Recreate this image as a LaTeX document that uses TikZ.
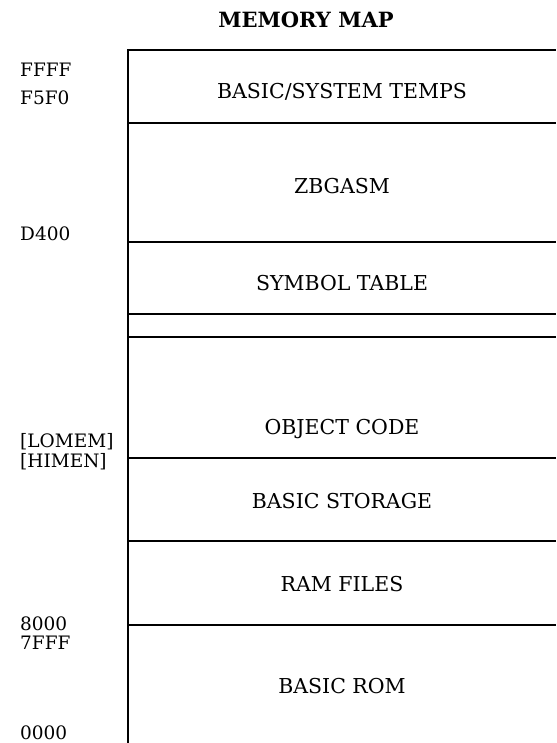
\documentclass[tikz,border=0pt]{standalone}
\usepackage{fontspec}
\setmainfont{DejaVu Serif}
\begin{document}
\begin{tikzpicture}[x=1pt,y=-1pt,
  rule/.style={line width=1.3pt},
  region/.style={font=\fontsize{20.5}{24}\selectfont, inner sep=0pt},
  addr/.style={font=\fontsize{18.5}{22}\selectfont, anchor=west, inner sep=0pt},
  ttl/.style={font=\bfseries\fontsize{21}{25}\selectfont, inner sep=0pt}]
\useasboundingbox (0,0) rectangle (556,743);
\node[ttl] (title) at (306,20) {MEMORY MAP};
% frame
\coordinate (tl) at (128,50);
\coordinate (bl) at (128,743);
\coordinate (tr) at (556,50);
\draw[rule] (bl) -- (tl) -- (tr);
\foreach \y in {123,242,314,337,458,541,625}
  \draw[rule] (128,\y) -- (556,\y);
% regions
\node[region] (temps) at (342,92) {BASIC/SYSTEM TEMPS};
\node[region] (zbg) at (342,186) {ZBGASM};
\node[region] (sym) at (342,283) {SYMBOL TABLE};
\node[region] (obj) at (342,429) {OBJECT CODE};
\node[region] (bstor) at (342,501) {BASIC STORAGE};
\node[region] (ram) at (342,584) {RAM FILES};
\node[region] (rom) at (342,686) {BASIC ROM};
% addresses
\node[addr] (a1) at (20,70) {FFFF};
\node[addr] (a2) at (20,98) {F5F0};
\node[addr] (a3) at (20,234) {D400};
\node[addr] (a4) at (20,442) {[LOMEM]};
\node[addr] (a5) at (20,462) {[HIMEN]};
\node[addr] (a6) at (20,624) {8000};
\node[addr] (a7) at (20,643) {7FFF};
\node[addr] (a8) at (20,733) {0000};
\end{tikzpicture}
\end{document}
